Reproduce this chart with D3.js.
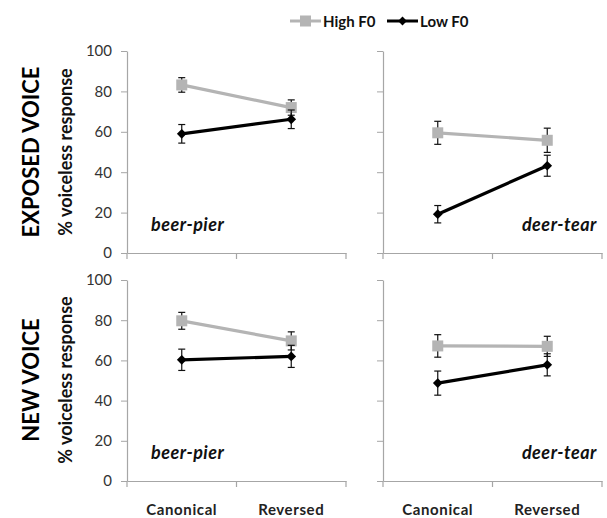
<!DOCTYPE html>
<html>
<head>
<meta charset="utf-8">
<script src="https://cdn.jsdelivr.net/npm/d3@7"></script>
<style>
  body { margin: 0; background: #fff; }
  svg { display: block; font-family: Lato, "Open Sans", sans-serif; }
</style>
</head>
<body>
<svg id="chart"></svg>
<script>
// categories / labels
const categories = ["Canonical", "Reversed"];
const seriesNames = ["High F0", "Low F0"];
const rowLabels = ["EXPOSED VOICE", "NEW VOICE"];
const wordPairs = ["beer-pier", "deer-tear"];
const yTicks = [0, 20, 40, 60, 80, 100];

// values (% voiceless response) and error bar half-widths
const exposedBeerHigh = [83.2, 72.0];
const exposedBeerHighErr = [3.6, 3.8];
const exposedBeerLow = [59.0, 66.2];
const exposedBeerLowErr = [4.6, 4.6];

const exposedDeerHigh = [59.5, 55.8];
const exposedDeerHighErr = [5.7, 6.0];
const exposedDeerLow = [19.2, 43.2];
const exposedDeerLowErr = [4.3, 5.2];

const newBeerHigh = [79.7, 69.7];
const newBeerHighErr = [4.2, 4.5];
const newBeerLow = [60.3, 62.0];
const newBeerLowErr = [5.3, 5.5];

const newDeerHigh = [67.2, 67.0];
const newDeerHighErr = [5.6, 5.0];
const newDeerLow = [48.7, 57.8];
const newDeerLowErr = [6.0, 5.5];

const width = 607, height = 518;
const svg = d3.select("#chart").attr("width", width).attr("height", height);

const panelW = 219;
const panels = [
  { row: 0, col: 0, left: 127, top: 51, bottom: 253, high: exposedBeerHigh, highErr: exposedBeerHighErr, low: exposedBeerLow, lowErr: exposedBeerLowErr },
  { row: 0, col: 1, left: 383, top: 51, bottom: 253, high: exposedDeerHigh, highErr: exposedDeerHighErr, low: exposedDeerLow, lowErr: exposedDeerLowErr },
  { row: 1, col: 0, left: 127, top: 280, bottom: 481, high: newBeerHigh, highErr: newBeerHighErr, low: newBeerLow, lowErr: newBeerLowErr },
  { row: 1, col: 1, left: 383, top: 280, bottom: 481, high: newDeerHigh, highErr: newDeerHighErr, low: newDeerLow, lowErr: newDeerLowErr }
];

const axisGrey = "#a6a6a6";
const highGrey = "#b4b4b4";

panels.forEach(p => {
  const g = svg.append("g").attr("transform", `translate(${p.left},0)`);
  const x = d3.scaleBand().domain(categories).range([0, panelW]);
  const y = d3.scaleLinear().domain([0, 100]).range([p.bottom, p.top]);

  // y axis
  const yAxis = d3.axisLeft(y).tickValues(yTicks).tickSize(6).tickSizeOuter(0)
    .tickFormat(p.col === 0 ? d3.format("d") : () => "");
  const ya = g.append("g").call(yAxis);
  ya.select(".domain").attr("stroke", axisGrey).attr("stroke-width", 1.2);
  ya.selectAll(".tick line").attr("stroke", axisGrey);
  ya.selectAll(".tick text").attr("fill", "#333").attr("font-size", 15)
    .attr("font-family", "Lato, sans-serif").attr("x", -15);

  // x axis
  const xAxis = d3.axisBottom(x).tickSize(0).tickSizeOuter(0)
    .tickFormat(p.row === 1 ? d => d : () => "");
  const xa = g.append("g").attr("transform", `translate(0,${p.bottom})`).call(xAxis);
  xa.select(".domain").attr("stroke", axisGrey).attr("stroke-width", 1.2);
  xa.selectAll(".tick text").attr("fill", "#222").attr("font-size", 15).attr("font-weight", 700)
    .attr("letter-spacing", 0.6)
    .attr("dy", 0).attr("y", 34).attr("font-family", "Lato, sans-serif");
  // boundary ticks between categories
  g.selectAll(".bandtick").data([0, x.bandwidth(), panelW]).enter().append("line")
    .attr("x1", d => d).attr("x2", d => d)
    .attr("y1", p.bottom).attr("y2", p.bottom + 6)
    .attr("stroke", axisGrey).attr("stroke-width", 1.2);

  const cx = d => x(d) + x.bandwidth() / 2;
  const line = d3.line().x(d => cx(d.cat)).y(d => y(d.v));

  const sets = [
    { vals: p.high, errs: p.highErr, color: highGrey, shape: "square" },
    { vals: p.low, errs: p.lowErr, color: "#000", shape: "diamond" }
  ];

  sets.forEach(s => {
    const pts = categories.map((c, i) => ({ cat: c, v: s.vals[i], e: s.errs[i] }));
    g.append("path").attr("d", line(pts)).attr("fill", "none")
      .attr("stroke", s.color).attr("stroke-width", 3.2);

    // error bars
    const eb = g.selectAll(null).data(pts).enter().append("g").attr("stroke", "#111").attr("stroke-width", 1.2);
    eb.append("line").attr("x1", d => cx(d.cat)).attr("x2", d => cx(d.cat))
      .attr("y1", d => y(d.v + d.e)).attr("y2", d => y(d.v - d.e));
    eb.append("line").attr("x1", d => cx(d.cat) - 3.5).attr("x2", d => cx(d.cat) + 3.5)
      .attr("y1", d => y(d.v + d.e)).attr("y2", d => y(d.v + d.e));
    eb.append("line").attr("x1", d => cx(d.cat) - 3.5).attr("x2", d => cx(d.cat) + 3.5)
      .attr("y1", d => y(d.v - d.e)).attr("y2", d => y(d.v - d.e));

    // markers
    if (s.shape === "square") {
      g.selectAll(null).data(pts).enter().append("rect")
        .attr("x", d => cx(d.cat) - 5.5).attr("y", d => y(d.v) - 5.5)
        .attr("width", 11).attr("height", 11).attr("fill", s.color);
    } else {
      g.selectAll(null).data(pts).enter().append("path")
        .attr("d", d3.symbol(d3.symbolDiamond2, 60)())
        .attr("transform", d => `translate(${cx(d.cat)},${y(d.v)})`)
        .attr("fill", s.color);
    }
  });

  // word pair label
  const label = wordPairs[p.col];
  g.append("text")
    .attr("x", p.col === 0 ? 24 : panelW - 5)
    .attr("y", p.bottom - 22)
    .attr("text-anchor", p.col === 0 ? "start" : "end")
    .attr("font-size", 18).attr("font-weight", 700).attr("font-style", "italic")
    .attr("letter-spacing", 0.5)
    .attr("fill", "#111").attr("font-family", "Lato, sans-serif")
    .text(label);
});

// row labels and y titles
[{ cy: 152, i: 0 }, { cy: 380, i: 1 }].forEach(r => {
  svg.append("text")
    .attr("transform", `translate(39,${r.cy}) rotate(-90)`)
    .attr("text-anchor", "middle")
    .attr("font-size", 22).attr("font-weight", 700).attr("fill", "#000")
    .attr("font-family", "Lato, sans-serif")
    .text(rowLabels[r.i]);
  svg.append("text")
    .attr("transform", `translate(72,${r.cy}) rotate(-90)`)
    .attr("text-anchor", "middle")
    .attr("font-size", 18).attr("font-weight", 700).attr("fill", "#111")
    .attr("font-family", "Lato, sans-serif")
    .text("% voiceless response");
});

// legend
const legend = svg.append("g").attr("transform", "translate(0,21)");
const legendItems = [
  { name: seriesNames[0], x0: 290, color: highGrey, shape: "square" },
  { name: seriesNames[1], x0: 387, color: "#000", shape: "diamond" }
];
legendItems.forEach(it => {
  legend.append("line").attr("x1", it.x0).attr("x2", it.x0 + 31)
    .attr("y1", 0).attr("y2", 0).attr("stroke", it.color).attr("stroke-width", 3);
  if (it.shape === "square") {
    legend.append("rect").attr("x", it.x0 + 10).attr("y", -5.5)
      .attr("width", 11).attr("height", 11).attr("fill", it.color);
  } else {
    legend.append("path").attr("d", d3.symbol(d3.symbolDiamond2, 50)())
      .attr("transform", `translate(${it.x0 + 15.5},0)`).attr("fill", it.color);
  }
  legend.append("text").attr("x", it.x0 + 33).attr("y", 5.5)
    .attr("font-size", 15).attr("font-weight", 700).attr("fill", "#111")
    .attr("font-family", "Lato, sans-serif")
    .text(it.name);
});
</script>
</body>
</html>
